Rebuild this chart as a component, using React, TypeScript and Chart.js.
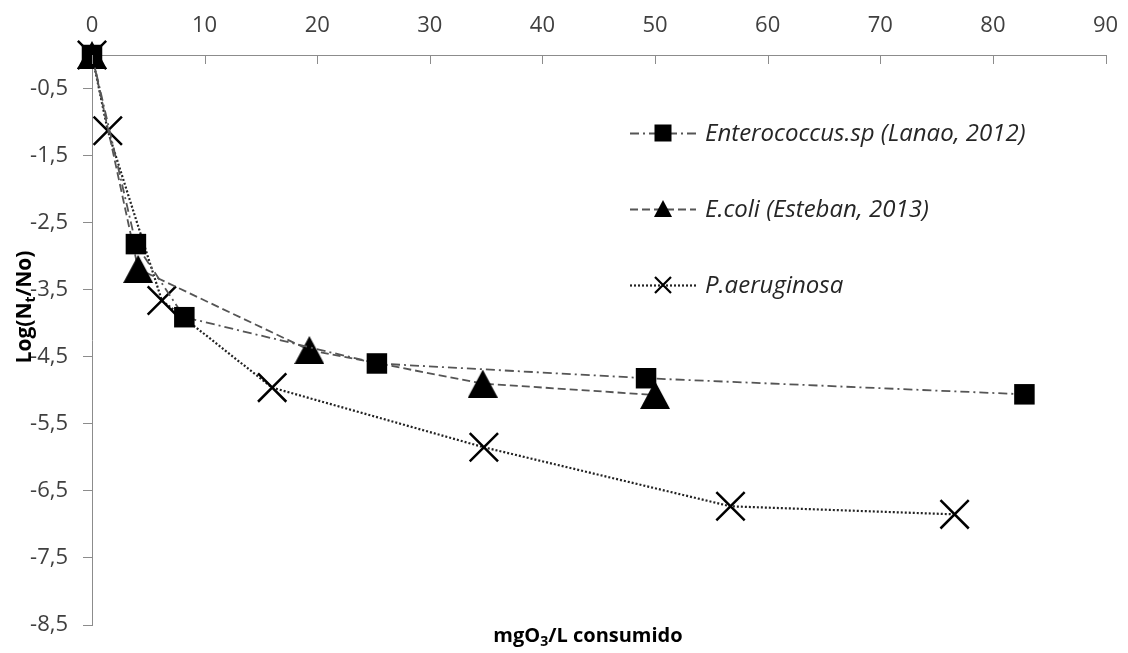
import React, { useEffect, useRef } from "react";
import { Chart, registerables } from "chart.js";

Chart.register(...registerables);

// Survival curves: log reduction vs ozone consumed
const enterococcusX = [0, 3.9, 8.2, 25.3, 49.2, 82.8];
const enterococcusY = [0, -2.82, -3.91, -4.6, -4.82, -5.06];

const ecoliX = [0, 4.1, 19.3, 34.7, 50.0];
const ecoliY = [0, -3.19, -4.4, -4.9, -5.07];

const aeruginosaX = [0, 1.4, 6.2, 16.0, 34.8, 56.7, 76.6];
const aeruginosaY = [0, -1.13, -3.66, -4.96, -5.85, -6.73, -6.85];

const seriesNames = [
  "Enterococcus.sp (Lanao, 2012)",
  "E.coli (Esteban, 2013)",
  "P.aeruginosa",
];

const xTicks = [0, 10, 20, 30, 40, 50, 60, 70, 80, 90];
const yTicks = [-0.5, -1.5, -2.5, -3.5, -4.5, -5.5, -6.5, -7.5, -8.5];

const AXIS_COLOR = "#8c8c8c";
const TICK_TEXT = "#404040";
const FONT = "'Open Sans', 'DejaVu Sans', sans-serif";

function toPoints(xs: number[], ys: number[]) {
  return xs.map((x, i) => ({ x, y: ys[i] }));
}

// Filled triangle whose bounding box is centred on the data point
function makeTriangle(w: number, h: number): HTMLCanvasElement {
  const c = document.createElement("canvas");
  c.width = w;
  c.height = h;
  const g = c.getContext("2d")!;
  g.fillStyle = "#000";
  g.beginPath();
  g.moveTo(w / 2, 0);
  g.lineTo(w, h);
  g.lineTo(0, h);
  g.closePath();
  g.fill();
  return c;
}

type Part = { text: string; sub?: boolean };

function drawRich(
  ctx: CanvasRenderingContext2D,
  parts: Part[],
  cx: number,
  cy: number,
  size: number,
  weight: string
) {
  const mainFont = `${weight} ${size}px ${FONT}`;
  const subFont = `${weight} ${Math.round(size * 0.68)}px ${FONT}`;
  let total = 0;
  for (const p of parts) {
    ctx.font = p.sub ? subFont : mainFont;
    total += ctx.measureText(p.text).width;
  }
  let x = cx - total / 2;
  ctx.textBaseline = "middle";
  ctx.textAlign = "left";
  for (const p of parts) {
    ctx.font = p.sub ? subFont : mainFont;
    ctx.fillText(p.text, x, p.sub ? cy + size * 0.3 : cy);
    x += ctx.measureText(p.text).width;
  }
}

const decorPlugin = {
  id: "decor",
  afterDraw(chart: any) {
    const ctx: CanvasRenderingContext2D = chart.ctx;
    const xs = chart.scales.x;
    const area = chart.chartArea;
    ctx.save();

    // x-axis tick marks hang down from the top axis line
    ctx.strokeStyle = AXIS_COLOR;
    ctx.lineWidth = 1;
    for (const v of xTicks) {
      const px = Math.round(xs.getPixelForValue(v)) + 0.5;
      ctx.beginPath();
      ctx.moveTo(px, area.top);
      ctx.lineTo(px, area.top + 9);
      ctx.stroke();
    }

    // axis titles
    ctx.fillStyle = "#000";
    drawRich(
      ctx,
      [{ text: "mgO" }, { text: "3", sub: true }, { text: "/L consumido" }],
      588,
      636,
      20,
      "bold"
    );
    ctx.save();
    ctx.translate(25, 307);
    ctx.rotate(-Math.PI / 2);
    drawRich(
      ctx,
      [{ text: "Log(N" }, { text: "t", sub: true }, { text: "/No)" }],
      0,
      0,
      21,
      "bold"
    );
    ctx.restore();

    // legend
    const rows = [133, 209, 285];
    const lx0 = 630;
    const lx1 = 696;
    const mx = 663;
    chart.data.datasets.forEach((ds: any, i: number) => {
      const y = rows[i];
      ctx.save();
      ctx.strokeStyle = ds.borderColor;
      ctx.lineWidth = ds.borderWidth;
      ctx.setLineDash(ds.borderDash || []);
      ctx.beginPath();
      ctx.moveTo(lx0, y + 0.5);
      ctx.lineTo(lx1, y + 0.5);
      ctx.stroke();
      ctx.restore();

      ctx.save();
      ctx.fillStyle = "#000";
      ctx.strokeStyle = "#000";
      if (i === 0) {
        ctx.fillRect(mx - 8.5, y - 8.5, 17, 17);
      } else if (i === 1) {
        ctx.beginPath();
        ctx.moveTo(mx, y - 9);
        ctx.lineTo(mx + 9, y + 8);
        ctx.lineTo(mx - 9, y + 8);
        ctx.closePath();
        ctx.fill();
      } else {
        ctx.lineWidth = 2.2;
        ctx.beginPath();
        ctx.moveTo(mx - 8, y - 8);
        ctx.lineTo(mx + 8, y + 8);
        ctx.moveTo(mx + 8, y - 8);
        ctx.lineTo(mx - 8, y + 8);
        ctx.stroke();
      }
      ctx.restore();

      ctx.fillStyle = "#262626";
      ctx.font = `italic 24px ${FONT}`;
      ctx.textAlign = "left";
      ctx.textBaseline = "middle";
      ctx.fillText(seriesNames[i], 705, y + 1);
    });

    ctx.restore();
  },
};

export default function App() {
  const ref = useRef<HTMLCanvasElement | null>(null);

  useEffect(() => {
    if (!ref.current) return;
    const triangle = makeTriangle(30, 28);

    const chart = new Chart(ref.current, {
      type: "line",
      data: {
        datasets: [
          {
            label: seriesNames[0],
            data: toPoints(enterococcusX, enterococcusY),
            borderColor: "#555555",
            borderWidth: 1.8,
            borderDash: [9, 4, 2, 4],
            pointStyle: "rect",
            pointRadius: 14.5,
            pointBackgroundColor: "#000",
            pointBorderWidth: 0,
            tension: 0,
            clip: false,
          },
          {
            label: seriesNames[1],
            data: toPoints(ecoliX, ecoliY),
            borderColor: "#555555",
            borderWidth: 1.8,
            borderDash: [8, 4],
            pointStyle: triangle,
            pointRadius: 15,
            pointBackgroundColor: "#000",
            pointBorderWidth: 0,
            tension: 0,
            clip: false,
          },
          {
            label: seriesNames[2],
            data: toPoints(aeruginosaX, aeruginosaY),
            borderColor: "#222222",
            borderWidth: 2.2,
            borderDash: [2, 2],
            pointStyle: "crossRot",
            pointRadius: 20,
            pointBorderColor: "#000",
            pointBorderWidth: 2.5,
            tension: 0,
            clip: false,
          },
        ],
      } as any,
      options: {
        animation: false,
        responsive: false,
        layout: { padding: { left: 0, top: 0, right: 21, bottom: 28 } },
        plugins: {
          legend: { display: false },
          tooltip: { enabled: false },
        },
        scales: {
          x: {
            type: "linear",
            position: "top",
            min: 0,
            max: 90,
            afterBuildTicks: (s: any) => {
              s.ticks = xTicks.map((v) => ({ value: v }));
            },
            afterFit: (s: any) => {
              s.height = 55;
              s.paddingLeft = 0;
              s.paddingRight = 0;
            },
            grid: { display: true, drawOnChartArea: false, drawTicks: false },
            border: { display: true, color: AXIS_COLOR, width: 1 },
            ticks: {
              padding: 16,
              color: TICK_TEXT,
              font: { family: FONT, size: 22 },
              callback: (v: any) => String(v),
            },
          },
          y: {
            type: "linear",
            position: "left",
            min: -8.5,
            max: 0,
            afterBuildTicks: (s: any) => {
              s.ticks = yTicks.map((v) => ({ value: v }));
            },
            afterFit: (s: any) => {
              s.width = 92;
              s.paddingTop = 0;
              s.paddingBottom = 0;
            },
            grid: {
              display: true,
              drawOnChartArea: false,
              drawTicks: true,
              tickLength: 9,
              color: AXIS_COLOR,
            },
            border: { display: true, color: AXIS_COLOR, width: 1 },
            ticks: {
              padding: 15,
              color: TICK_TEXT,
              font: { family: FONT, size: 22 },
              callback: (v: any) => String(v).replace(".", ","),
            },
          },
        },
      } as any,
      plugins: [decorPlugin],
    });

    return () => chart.destroy();
  }, []);

  return (
    <div style={{ position: "absolute", left: 0, top: 0, width: 1128, height: 653, background: "#fff" }}>
      <canvas ref={ref} width={1128} height={653} style={{ display: "block" }} />
    </div>
  );
}
